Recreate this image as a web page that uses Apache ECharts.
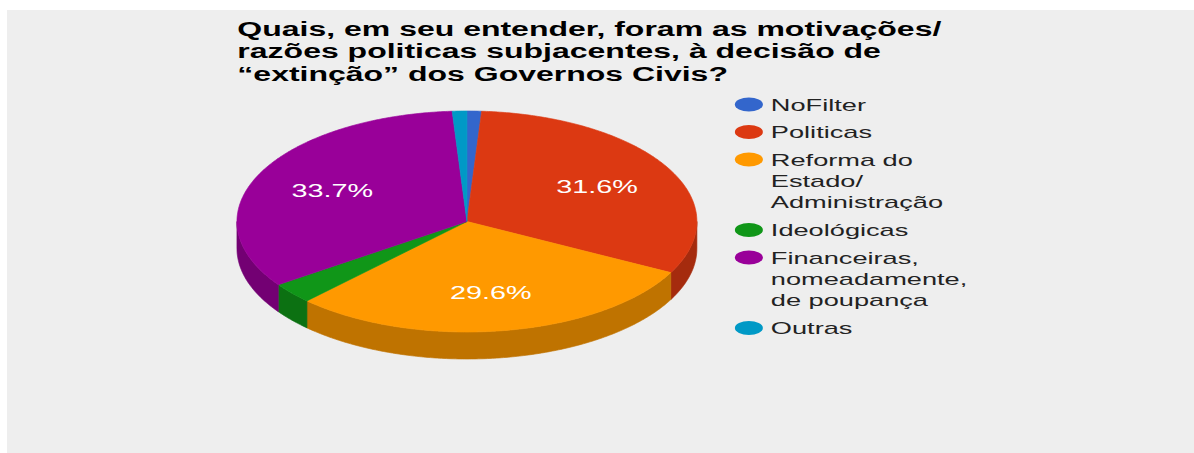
<!DOCTYPE html>
<html>
<head>
<meta charset="utf-8">
<title>Governos Civis</title>
<script src="https://cdn.jsdelivr.net/npm/echarts@6.0.0/dist/echarts.min.js"></script>
<style>
  html, body { margin: 0; padding: 0; background: #fff; }
  #wrap { position: absolute; left: 7px; top: 10px; width: 1187px; height: 443px; overflow: hidden; background: #eeeeee; }
  /* the source picture is stretched sideways, so the chart is drawn narrow and scaled */
  #chart { width: 742px; height: 443px; transform: scaleX(1.59973); transform-origin: 0 0; }
</style>
</head>
<body>
<div id="wrap"><div id="chart"></div></div>
<script>
const titleText = 'Quais, em seu entender, foram as motivações/\nrazões politicas subjacentes, à decisão de\n“extinção” dos Governos Civis?'
const categories = [
  'NoFilter',
  'Politicas',
  'Reforma do\nEstado/\nAdministração',
  'Ideológicas',
  'Financeiras,\nnomeadamente,\nde poupança',
  'Outras'
]
const counts = [1, 31, 29, 3, 33, 1]

const colors = ['#3366cc', '#dc3912', '#ff9900', '#109618', '#990099', '#0099c6']
const FONT = '"Liberation Sans", Arial, sans-serif'

// ellipse of the tilted pie (chart px)
const CX = 287.5
const CY = 211.5
const RX = 143.75
const RY = 110.5
const DEPTH = 27

const total = counts.reduce((s, v) => s + v, 0)
const cum = []
counts.reduce((s, v, i) => { cum[i] = s; return s + v }, 0)

function shade(hex, k) {
  const n = parseInt(hex.slice(1), 16)
  const r = Math.round(((n >> 16) & 255) * k)
  const g = Math.round(((n >> 8) & 255) * k)
  const b = Math.round((n & 255) * k)
  return 'rgb(' + r + ',' + g + ',' + b + ')'
}

// points along the rim, angle clockwise from 12 o'clock
function arc(a0, a1, dy) {
  const pts = []
  const n = Math.max(2, Math.ceil((a1 - a0) / 0.01))
  for (let k = 0; k <= n; k++) {
    const t = a0 + (a1 - a0) * k / n
    pts.push([CX + RX * Math.sin(t), CY - RY * Math.cos(t) + dy])
  }
  return pts
}

function sliceRenderer(i) {
  return function(params, api) {
    const v = api.value(0)
    const start = cum[i] / total * Math.PI * 2
    const end = (cum[i] + v) / total * Math.PI * 2
    const children = []
    // front wall, only the part facing the viewer
    const lo = Math.max(start, Math.PI / 2)
    const hi = Math.min(end, Math.PI * 1.5)
    if (hi > lo) {
      const side = shade(colors[i], 0.75)
      children.push({
        type: 'polygon',
        shape: { points: arc(lo, hi, 0).concat(arc(lo, hi, DEPTH).reverse()) },
        style: { fill: side, stroke: side, lineWidth: 0.5 }
      })
    }
    children.push({
      type: 'polygon',
      shape: { points: [[CX, CY]].concat(arc(start, end, 0)) },
      style: { fill: colors[i], stroke: colors[i], lineWidth: 0.5 }
    })
    if (v / total >= 0.05) {
      const mid = (start + end) / 2
      children.push({
        type: 'text',
        style: {
          x: CX + 0.65 * RX * Math.sin(mid),
          y: CY - 0.65 * RY * Math.cos(mid),
          text: (v / total * 100).toFixed(1) + '%',
          fill: '#fff',
          font: '18px ' + FONT,
          align: 'center',
          verticalAlign: 'middle'
        }
      })
    }
    return { type: 'group', children: children }
  }
}

// one legend per entry so that the marker sits on the first text line
const LINE = 21.5
const GAP = 6
const legends = []
let firstLine = 94.5
categories.forEach((name, i) => {
  const lines = name.split('\n').length
  legends.push({
    data: [name],
    orient: 'vertical',
    left: 455,
    top: firstLine - (2 * lines - 1) * LINE / 2,
    padding: 0,
    selectedMode: false,
    icon: 'path://M0,1A1,1,0,1,0,2,1A1,1,0,1,0,0,1Z',
    symbolKeepAspect: false,
    itemWidth: 17.5,
    itemHeight: 14,
    formatter: n => '\n'.repeat(lines - 1) + n,
    textStyle: { fontSize: 17, lineHeight: LINE, color: '#222', fontFamily: FONT }
  })
  firstLine += lines * LINE + GAP
})

const chart = echarts.init(document.getElementById('chart'), null, { renderer: 'svg' })
chart.setOption({
  backgroundColor: '#eeeeee',
  animation: false,
  color: colors,
  title: {
    text: titleText,
    left: 144,
    top: 8,
    padding: 0,
    textStyle: { fontSize: 20, fontWeight: 'bold', lineHeight: 22.5, color: '#000', fontFamily: FONT }
  },
  legend: legends,
  series: categories.map((name, i) => ({
    type: 'custom',
    name: name,
    coordinateSystem: 'none',
    silent: true,
    itemStyle: { color: colors[i] },
    renderItem: sliceRenderer(i),
    data: [[counts[i]]]
  }))
})
</script>
</body>
</html>
